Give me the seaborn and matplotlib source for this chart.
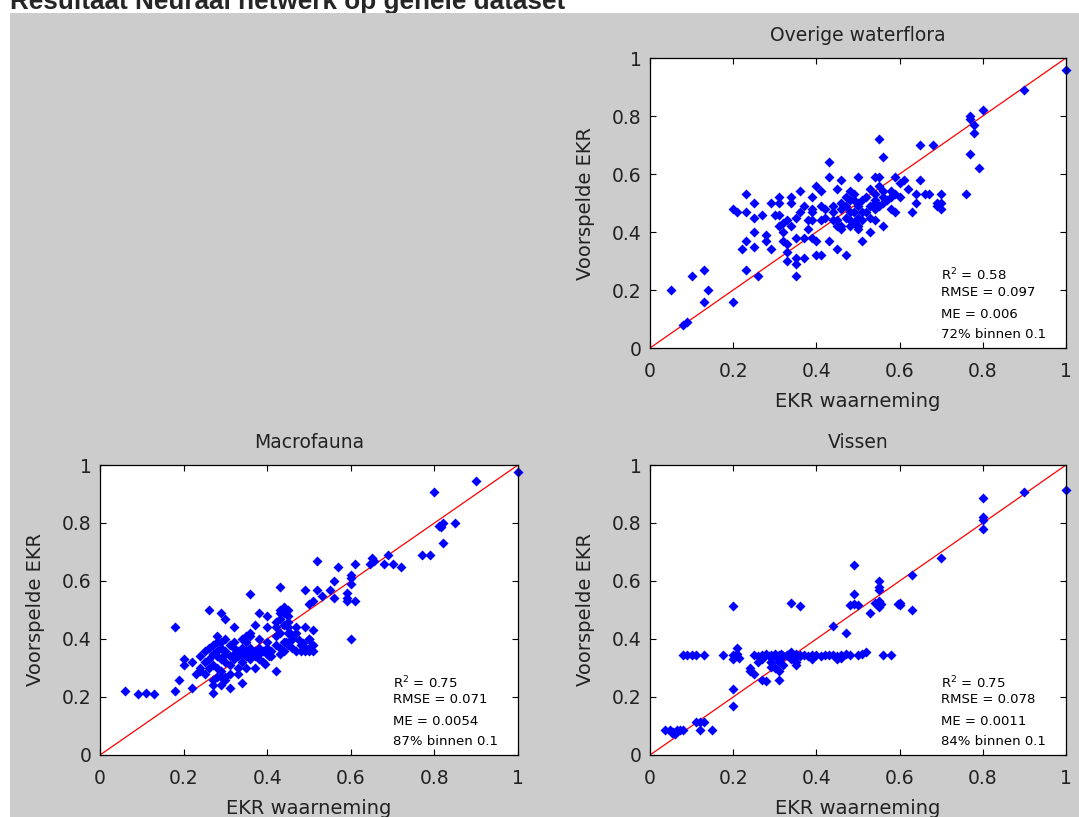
"""
Neuraal netwerk resultaten: voorspelde vs waargenomen EKR per kwaliteitselement
"""
import matplotlib
matplotlib.use("Agg")
import matplotlib.pyplot as plt
from matplotlib.patches import Rectangle
import seaborn as sns
import pandas as pd

# 1:1 lijn
IDENTITY = [0, 1]

# Overige waterflora
flora_obs = [1.00, 0.90, 0.80, 0.77, 0.77, 0.78, 0.78, 0.77, 0.79, 0.76, 0.55, 0.56, 0.65, 0.68,
             0.43, 0.43, 0.46, 0.50, 0.54, 0.55, 0.59, 0.61, 0.60, 0.65, 0.40, 0.41, 0.45, 0.48,
             0.47, 0.49, 0.53, 0.55, 0.54, 0.54, 0.56, 0.58, 0.59, 0.60, 0.62, 0.64, 0.66, 0.67,
             0.70, 0.70, 0.70, 0.69, 0.69, 0.64, 0.63, 0.58, 0.59, 0.23, 0.20, 0.21, 0.23, 0.25,
             0.25, 0.27, 0.25, 0.23, 0.22, 0.25, 0.28, 0.28, 0.29, 0.29, 0.31, 0.31, 0.30, 0.31,
             0.34, 0.34, 0.36, 0.37, 0.39, 0.39, 0.31, 0.32, 0.32, 0.33, 0.34, 0.33, 0.35, 0.36,
             0.38, 0.39, 0.41, 0.35, 0.37, 0.39, 0.40, 0.33, 0.35, 0.37, 0.33, 0.35, 0.40, 0.41,
             0.43, 0.45, 0.47, 0.35, 0.26, 0.23, 0.20, 0.13, 0.10, 0.14, 0.13, 0.05, 0.08, 0.09,
             0.44, 0.44, 0.46, 0.46, 0.47, 0.48, 0.49, 0.50, 0.50, 0.51, 0.53, 0.56, 0.52, 0.53,
             0.54, 0.54, 0.50, 0.50, 0.51, 0.49, 0.46, 0.45, 0.46, 0.48, 0.50, 0.51, 0.53, 0.54,
             0.55, 0.56, 0.57, 0.58, 0.45, 0.44, 0.42, 0.42, 0.41, 0.48, 0.49, 0.47, 0.52, 0.56,
             0.51, 0.48, 0.39, 0.38, 0.32]
flora_pred = [0.96, 0.89, 0.82, 0.80, 0.79, 0.77, 0.74, 0.67, 0.62, 0.53, 0.72, 0.66, 0.70, 0.70,
              0.64, 0.59, 0.58, 0.59, 0.59, 0.59, 0.59, 0.58, 0.57, 0.58, 0.56, 0.54, 0.55, 0.54,
              0.52, 0.53, 0.55, 0.56, 0.53, 0.51, 0.54, 0.54, 0.53, 0.52, 0.55, 0.53, 0.53, 0.53,
              0.53, 0.50, 0.48, 0.50, 0.49, 0.50, 0.47, 0.48, 0.47, 0.53, 0.48, 0.47, 0.47, 0.50,
              0.45, 0.46, 0.40, 0.37, 0.34, 0.35, 0.39, 0.37, 0.34, 0.50, 0.52, 0.50, 0.46, 0.46,
              0.52, 0.50, 0.54, 0.49, 0.48, 0.52, 0.42, 0.40, 0.37, 0.36, 0.42, 0.44, 0.45, 0.47,
              0.41, 0.44, 0.44, 0.38, 0.38, 0.38, 0.37, 0.33, 0.31, 0.31, 0.30, 0.29, 0.32, 0.32,
              0.37, 0.34, 0.32, 0.25, 0.25, 0.27, 0.16, 0.27, 0.25, 0.20, 0.16, 0.20, 0.08, 0.09,
              0.49, 0.47, 0.50, 0.48, 0.45, 0.44, 0.43, 0.41, 0.42, 0.37, 0.40, 0.42, 0.47, 0.49,
              0.50, 0.48, 0.49, 0.50, 0.51, 0.51, 0.42, 0.42, 0.41, 0.47, 0.45, 0.44, 0.45, 0.44,
              0.49, 0.50, 0.51, 0.52, 0.44, 0.44, 0.45, 0.48, 0.49, 0.51, 0.47, 0.49, 0.52, 0.52,
              0.47, 0.42, 0.47, 0.44, 0.43]

# Macrofauna
macro_obs = [1.00, 0.90, 0.80, 0.81, 0.82, 0.815, 0.85, 0.82, 0.77, 0.79, 0.72, 0.70, 0.68, 0.69,
             0.65, 0.645, 0.655, 0.52, 0.57, 0.61, 0.60, 0.60, 0.56, 0.60, 0.43, 0.49, 0.52, 0.55,
             0.53, 0.56, 0.59, 0.59, 0.59, 0.61, 0.51, 0.50, 0.36, 0.26, 0.18, 0.60, 0.06, 0.09,
             0.11, 0.13, 0.18, 0.19, 0.22, 0.20, 0.20, 0.23, 0.24, 0.27, 0.27, 0.27, 0.31, 0.30,
             0.29, 0.34, 0.29, 0.30, 0.32, 0.28, 0.37, 0.38, 0.40, 0.42, 0.42, 0.43, 0.44, 0.45,
             0.43, 0.45, 0.35, 0.36, 0.40, 0.47, 0.49, 0.51, 0.455, 0.445, 0.46, 0.475, 0.485, 0.50,
             0.505, 0.49, 0.48, 0.42, 0.37, 0.395, 0.405,
             0.24, 0.25, 0.25, 0.26, 0.26, 0.27, 0.27, 0.27, 0.28, 0.28, 0.28, 0.29, 0.29, 0.29,
             0.30, 0.30, 0.30, 0.31, 0.31, 0.31, 0.32, 0.32, 0.32, 0.33, 0.33, 0.33, 0.34, 0.34,
             0.34, 0.35, 0.35, 0.35, 0.36, 0.36, 0.36, 0.37, 0.37, 0.38, 0.38, 0.38, 0.39, 0.39,
             0.40, 0.40, 0.41, 0.41, 0.42, 0.43, 0.43, 0.44, 0.44, 0.45, 0.46, 0.46, 0.47, 0.48,
             0.49, 0.50, 0.51, 0.51, 0.31, 0.29, 0.26, 0.25, 0.33, 0.35, 0.22, 0.24, 0.28, 0.30,
             0.29, 0.32, 0.34, 0.36, 0.38, 0.40, 0.42, 0.30, 0.28, 0.45, 0.50, 0.47, 0.43, 0.44,
             0.45, 0.43, 0.45, 0.44]
macro_pred = [0.975, 0.946, 0.908, 0.79, 0.80, 0.785, 0.80, 0.73, 0.69, 0.69, 0.65, 0.66, 0.66, 0.69,
              0.68, 0.66, 0.67, 0.67, 0.65, 0.66, 0.62, 0.61, 0.60, 0.59, 0.58, 0.57, 0.57, 0.57,
              0.55, 0.54, 0.56, 0.54, 0.53, 0.53, 0.53, 0.52, 0.555, 0.50, 0.44, 0.40, 0.22, 0.21,
              0.215, 0.21, 0.22, 0.26, 0.23, 0.33, 0.31, 0.28, 0.29, 0.215, 0.24, 0.26, 0.23, 0.26,
              0.27, 0.25, 0.49, 0.47, 0.44, 0.41, 0.45, 0.49, 0.48, 0.46, 0.44, 0.49, 0.49, 0.48,
              0.47, 0.46, 0.41, 0.42, 0.44, 0.44, 0.44, 0.43, 0.42, 0.39, 0.40, 0.395, 0.385, 0.40,
              0.375, 0.36, 0.36, 0.29, 0.30, 0.315, 0.34,
              0.34, 0.36, 0.32, 0.37, 0.33, 0.35, 0.31, 0.38, 0.34, 0.36, 0.30, 0.33, 0.37, 0.39,
              0.35, 0.32, 0.36, 0.34, 0.38, 0.31, 0.35, 0.33, 0.37, 0.36, 0.34, 0.30, 0.37, 0.35,
              0.32, 0.36, 0.34, 0.39, 0.35, 0.33, 0.37, 0.36, 0.34, 0.37, 0.33, 0.35, 0.36, 0.32,
              0.35, 0.37, 0.34, 0.36, 0.38, 0.37, 0.35, 0.39, 0.36, 0.38, 0.37, 0.40, 0.36, 0.38,
              0.37, 0.36, 0.38, 0.36, 0.28, 0.29, 0.30, 0.28, 0.28, 0.30, 0.32, 0.30, 0.27, 0.27,
              0.24, 0.39, 0.40, 0.41, 0.40, 0.39, 0.41, 0.40, 0.39, 0.42, 0.40, 0.42, 0.42, 0.45,
              0.44, 0.50, 0.50, 0.51]

# Vissen
vis_obs = [1.00, 0.90, 0.80, 0.80, 0.80, 0.80, 0.70, 0.63, 0.63, 0.60, 0.60, 0.595, 0.55, 0.55,
           0.55, 0.54, 0.55, 0.555, 0.55, 0.53, 0.49, 0.49, 0.48, 0.49, 0.50, 0.44, 0.47, 0.20,
           0.34, 0.36, 0.21, 0.20, 0.215, 0.24, 0.24, 0.25, 0.26, 0.27, 0.28, 0.31, 0.31, 0.29,
           0.31, 0.20, 0.20, 0.35, 0.35, 0.34, 0.39, 0.45, 0.46, 0.036, 0.048, 0.056, 0.064, 0.072,
           0.08, 0.06, 0.052, 0.11, 0.12, 0.13, 0.12, 0.15,
           0.08, 0.09, 0.10, 0.11, 0.13, 0.175, 0.20, 0.205, 0.21, 0.25, 0.26, 0.27, 0.28, 0.285,
           0.29, 0.30, 0.305, 0.31, 0.315, 0.32, 0.33, 0.335, 0.34, 0.35, 0.36, 0.37, 0.38, 0.39,
           0.40, 0.41, 0.42, 0.43, 0.44, 0.45, 0.46, 0.47, 0.48, 0.50, 0.51, 0.52, 0.56, 0.58,
           0.27, 0.29, 0.30, 0.31, 0.32, 0.33, 0.34, 0.35, 0.36, 0.30, 0.32, 0.29]
vis_pred = [0.914, 0.908, 0.885, 0.82, 0.81, 0.78, 0.68, 0.62, 0.50, 0.525, 0.517, 0.52, 0.60, 0.58,
            0.57, 0.525, 0.53, 0.52, 0.51, 0.49, 0.655, 0.555, 0.517, 0.52, 0.517, 0.446, 0.42, 0.515,
            0.525, 0.515, 0.37, 0.33, 0.335, 0.30, 0.29, 0.28, 0.32, 0.26, 0.255, 0.26, 0.29, 0.32,
            0.32, 0.226, 0.17, 0.31, 0.32, 0.33, 0.33, 0.33, 0.335, 0.086, 0.086, 0.08, 0.086, 0.086,
            0.086, 0.072, 0.077, 0.115, 0.115, 0.115, 0.086, 0.086,
            0.345, 0.345, 0.345, 0.345, 0.345, 0.345, 0.345, 0.34, 0.35, 0.345, 0.34, 0.345, 0.35, 0.34,
            0.345, 0.35, 0.34, 0.345, 0.35, 0.34, 0.345, 0.35, 0.345, 0.34, 0.345, 0.345, 0.34, 0.345,
            0.345, 0.34, 0.345, 0.345, 0.345, 0.34, 0.345, 0.35, 0.345, 0.345, 0.35, 0.355, 0.345, 0.345,
            0.33, 0.32, 0.34, 0.33, 0.34, 0.345, 0.355, 0.35, 0.34, 0.30, 0.31, 0.305]

panels = [
    ("Overige waterflora", flora_obs, flora_pred,
     ["R$^2$ = 0.58", "RMSE = 0.097", "ME = 0.006", "72% binnen 0.1"]),
    ("Macrofauna", macro_obs, macro_pred,
     ["R$^2$ = 0.75", "RMSE = 0.071", "ME = 0.0054", "87% binnen 0.1"]),
    ("Vissen", vis_obs, vis_pred,
     ["R$^2$ = 0.75", "RMSE = 0.078", "ME = 0.0011", "84% binnen 0.1"]),
]
STAT_Y = [0.25, 0.19, 0.115, 0.045]
TICKS = [0, 0.2, 0.4, 0.6, 0.8, 1]
TICK_LABELS = ["0", "0.2", "0.4", "0.6", "0.8", "1"]

sns.set_style("ticks")
plt.rcParams["font.family"] = ["DejaVu Sans"]

W, H = 1079, 817
fig = plt.figure(figsize=(W / 100, H / 100), dpi=100)
fig.patch.set_facecolor("white")

# grijze achtergrond zoals in matlab figuur
bg = Rectangle((10 / W, 0), 1 - 10 / W, 1 - 13 / H, transform=fig.transFigure,
               facecolor="#cccccc", edgecolor="none", zorder=-1)
fig.patches.append(bg)
fig.text(10 / W, 1 - 9 / H, "Resultaat Neuraal netwerk op gehele dataset",
         fontsize=18.8, fontweight="bold", family="Liberation Sans",
         va="baseline", ha="left", zorder=-2)

positions = [
    (650 / W, 1 - 348 / H, 416 / W, 290 / H),
    (100 / W, 1 - 755 / H, 418 / W, 290 / H),
    (650 / W, 1 - 755 / H, 416 / W, 290 / H),
]

for (title, obs, pred, stats), pos in zip(panels, positions):
    ax = fig.add_axes(pos)
    ax.set_facecolor("white")
    df = pd.DataFrame({"obs": obs, "pred": pred})
    sns.lineplot(x=IDENTITY, y=IDENTITY, color="red", linewidth=0.9, ax=ax, zorder=1)
    sns.scatterplot(data=df, x="obs", y="pred", marker="D", s=26, color="blue",
                    linewidth=0, ax=ax, zorder=2, clip_on=False)
    ax.set_xlim(0, 1)
    ax.set_ylim(0, 1)
    ax.set_xticks(TICKS)
    ax.set_xticklabels(TICK_LABELS)
    ax.set_yticks(TICKS)
    ax.set_yticklabels(TICK_LABELS)
    ax.tick_params(direction="in", top=True, right=True, length=4, width=0.8,
                   labelsize=13.5, colors="black", labelcolor="#222222")
    ax.tick_params(axis="x", pad=10)
    ax.tick_params(axis="y", pad=6)
    for sp in ax.spines.values():
        sp.set_visible(True)
        sp.set_color("black")
        sp.set_linewidth(0.9)
    ax.set_title(title, fontsize=13.5, pad=12, color="#222222")
    ax.set_xlabel("EKR waarneming", fontsize=14, labelpad=8, color="#222222")
    ax.set_ylabel("Voorspelde EKR", fontsize=14, labelpad=12, color="#222222")
    for txt, yy in zip(stats, STAT_Y):
        ax.text(0.70, yy, txt, fontsize=9.5, va="center", ha="left", color="black")

fig.savefig("out.png", dpi=100)
